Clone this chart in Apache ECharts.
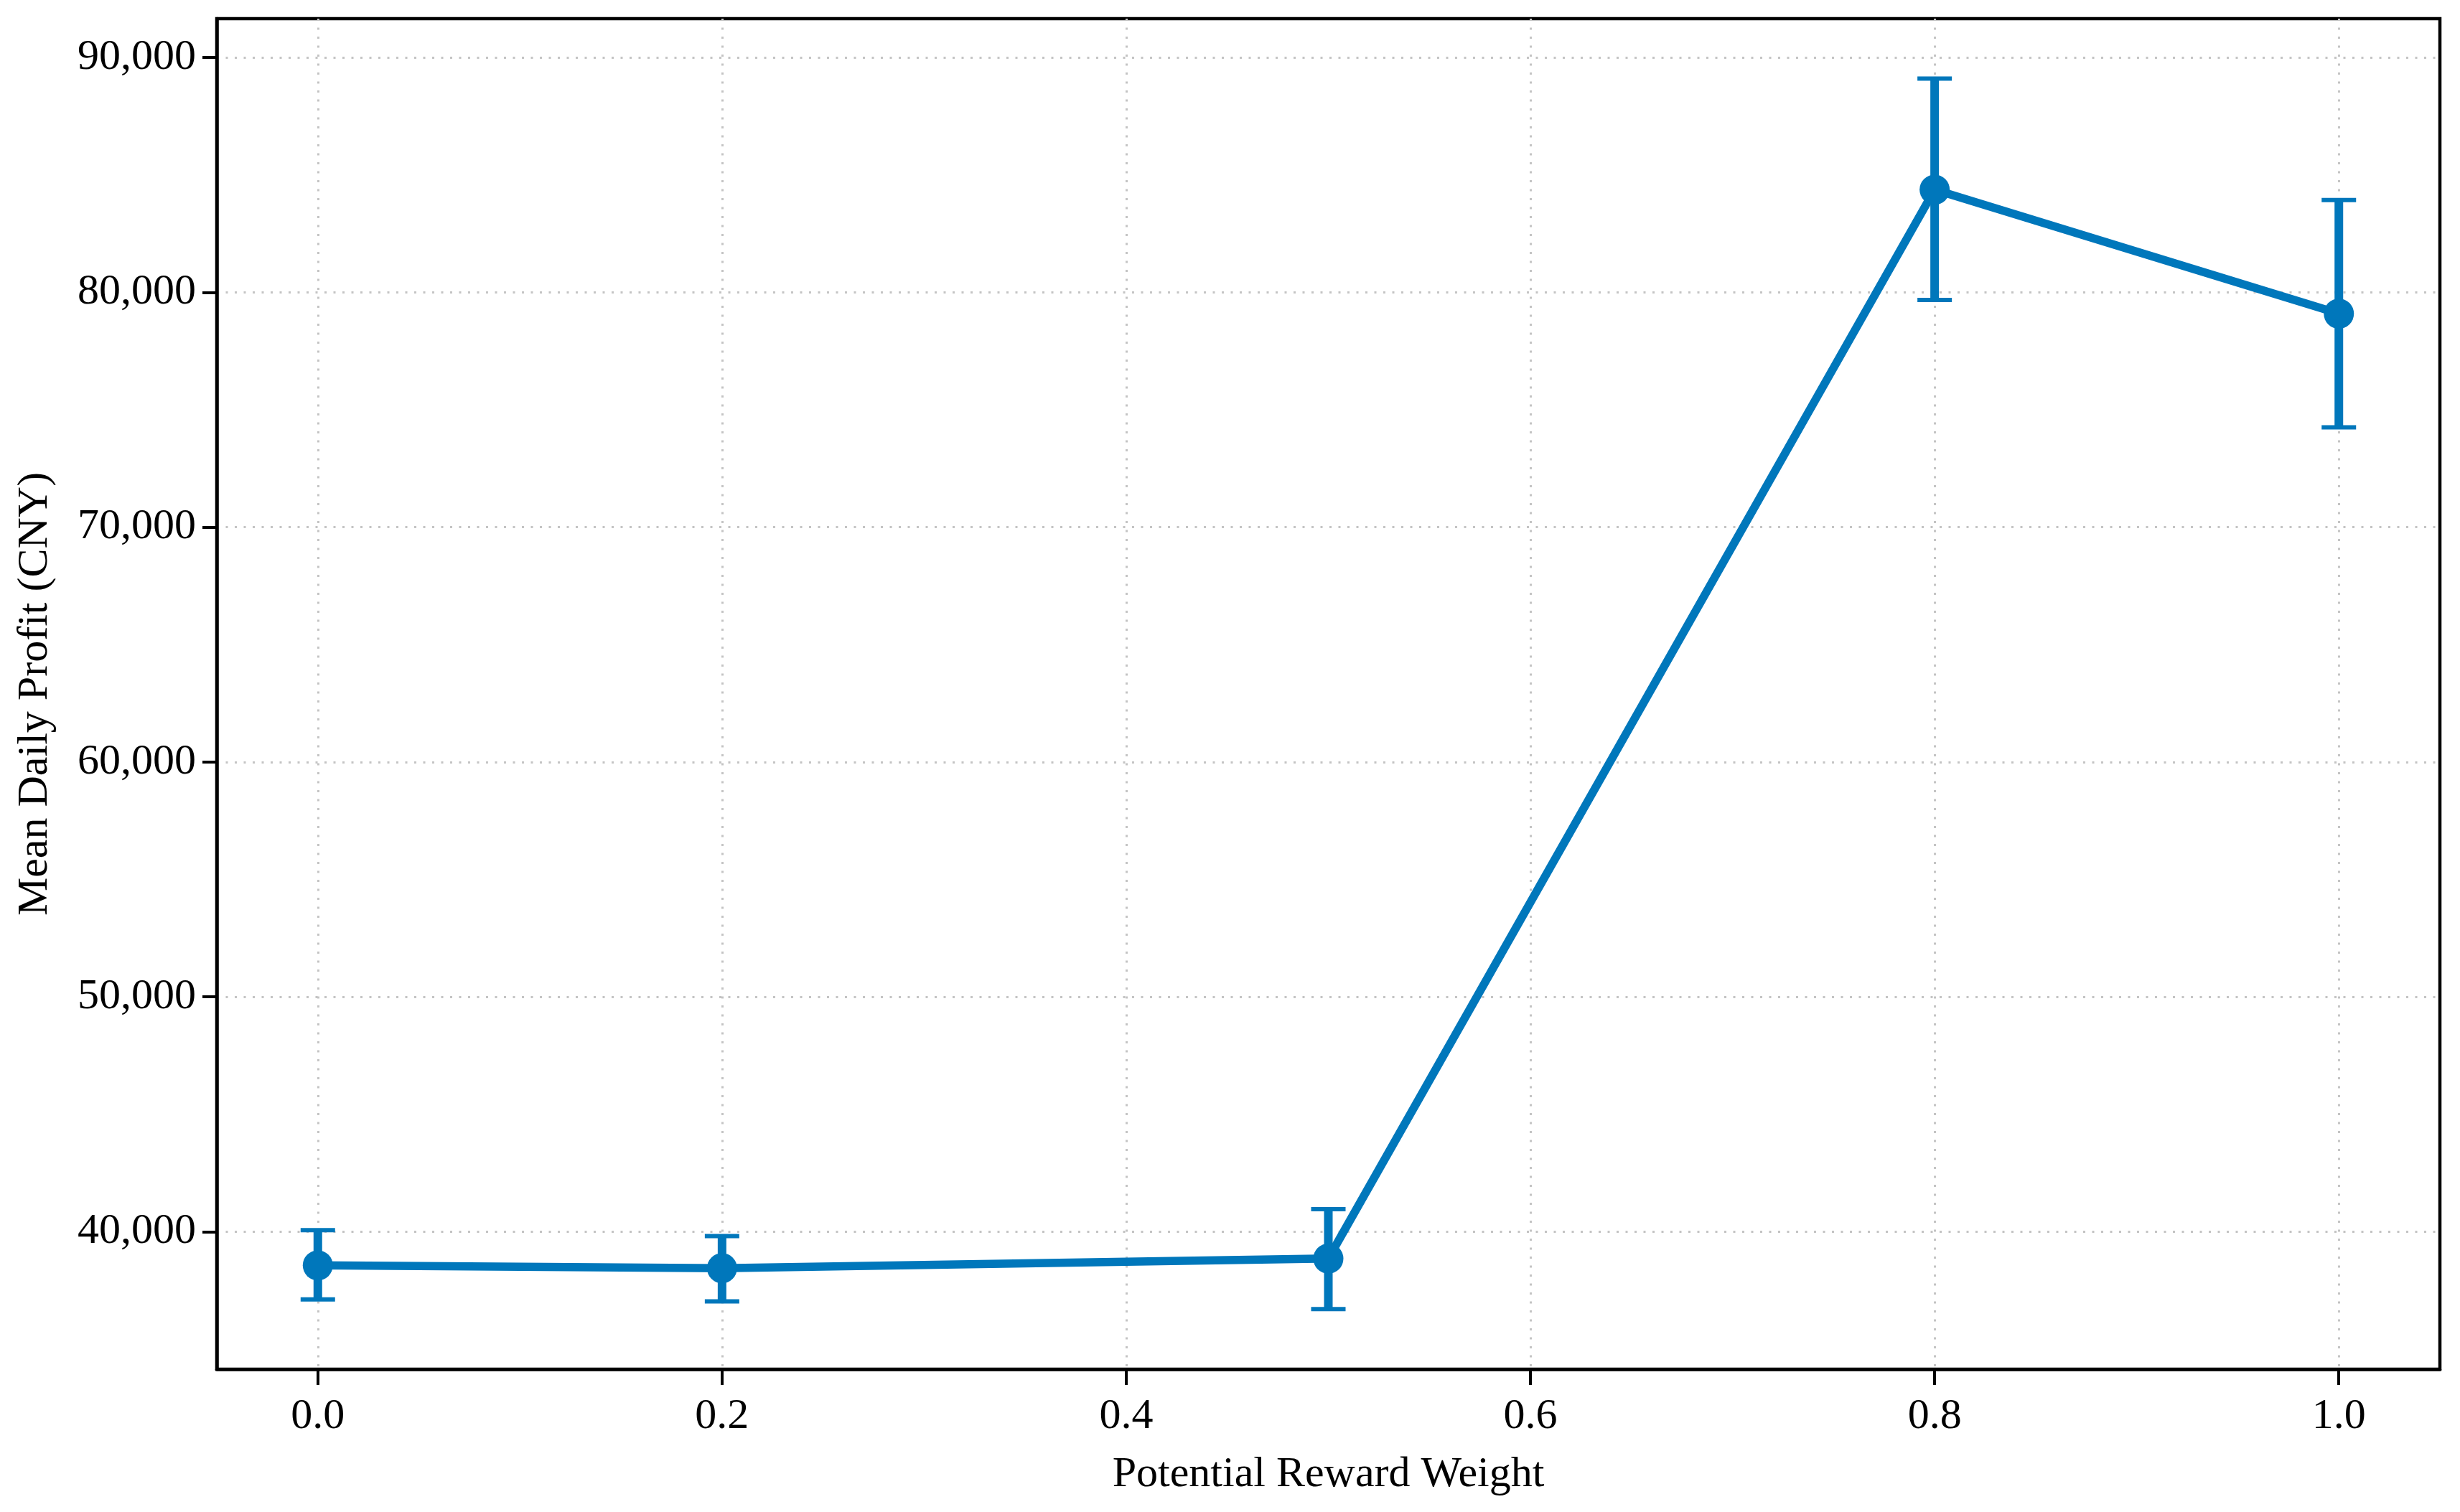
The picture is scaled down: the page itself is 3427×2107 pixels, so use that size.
<!DOCTYPE html>
<html>
<head>
<meta charset="utf-8">
<script src="https://cdn.jsdelivr.net/npm/echarts@6/dist/echarts.min.js"></script>
<style>
  html, body { margin: 0; padding: 0; background: #ffffff; }
  #chart { width: 3427px; height: 2107px; }
</style>
</head>
<body>
<div id="chart"></div>
<script>
// ---- data ----
const rewardWeights = [0.0, 0.2, 0.5, 0.8, 1.0];
const meanProfit = [38570, 38450, 38860, 84370, 79090];
const errLower = [37120, 37040, 36710, 79670, 74250];
const errUpper = [40070, 39820, 40960, 89100, 83930];
const xTicks = [0.0, 0.2, 0.4, 0.6, 0.8, 1.0];
const yTicks = [40000, 50000, 60000, 70000, 80000, 90000];

const xAxisTitle = 'Potential Reward Weight';
const yAxisTitle = 'Mean Daily Profit (CNY)';

// ---- chart ----
const blue = '#0077BB';
const font = "'Liberation Serif', 'Times New Roman', serif";

const lineData = rewardWeights.map((x, i) => [x, meanProfit[i]]);
const errData = rewardWeights.map((x, i) => [x, errLower[i], errUpper[i]]);

const chart = echarts.init(document.getElementById('chart'), null, { renderer: 'canvas' });

const gridLine = { show: true, lineStyle: { color: '#c4c4c4', width: 3, type: [3, 9.5] } };

chart.setOption({
  animation: false,
  backgroundColor: '#ffffff',
  grid: {
    left: 302, right: 28, top: 26, bottom: 199,
    show: true, borderColor: '#000000', borderWidth: 4.5, backgroundColor: 'transparent'
  },
  xAxis: {
    type: 'value',
    min: -0.05, max: 1.05,
    name: xAxisTitle,
    nameLocation: 'middle',
    nameGap: 117,
    nameTextStyle: { fontFamily: font, fontSize: 60, color: '#000' },
    axisLine: { show: true, onZero: false, lineStyle: { color: '#000', width: 4.5 } },
    axisTick: { show: true, length: 22, customValues: xTicks, lineStyle: { color: '#000', width: 4 } },
    axisLabel: {
      customValues: xTicks, margin: 36,
      fontFamily: font, fontSize: 60, color: '#000',
      formatter: v => v.toFixed(1)
    },
    splitLine: gridLine
  },
  yAxis: {
    type: 'value',
    min: 34150, max: 91650,
    name: yAxisTitle,
    nameLocation: 'middle',
    nameGap: 223,
    nameTextStyle: { fontFamily: font, fontSize: 60, color: '#000' },
    axisLine: { show: true, onZero: false, lineStyle: { color: '#000', width: 4.5 } },
    axisTick: { show: true, length: 20, customValues: yTicks, lineStyle: { color: '#000', width: 4 } },
    axisLabel: {
      customValues: yTicks, margin: 29,
      fontFamily: font, fontSize: 60, color: '#000',
      formatter: v => v.toLocaleString('en-US')
    },
    splitLine: gridLine
  },
  series: [
    {
      type: 'custom',
      name: 'error',
      data: errData,
      z: 3,
      renderItem: function (params, api) {
        const x = api.value(0);
        const lo = api.coord([x, api.value(1)]);
        const hi = api.coord([x, api.value(2)]);
        const cap = 24;
        const st = { stroke: blue, lineWidth: 12 };
        const capSt = { stroke: blue, lineWidth: 6 };
        return {
          type: 'group',
          children: [
            { type: 'line', shape: { x1: lo[0], y1: lo[1], x2: hi[0], y2: hi[1] }, style: st },
            { type: 'line', shape: { x1: lo[0] - cap, y1: lo[1], x2: lo[0] + cap, y2: lo[1] }, style: capSt },
            { type: 'line', shape: { x1: hi[0] - cap, y1: hi[1], x2: hi[0] + cap, y2: hi[1] }, style: capSt }
          ]
        };
      }
    },
    {
      type: 'line',
      name: 'mean',
      data: lineData,
      z: 4,
      symbol: 'circle',
      symbolSize: 42,
      itemStyle: { color: blue },
      lineStyle: { color: blue, width: 11.5 }
    }
  ]
});
</script>
</body>
</html>
